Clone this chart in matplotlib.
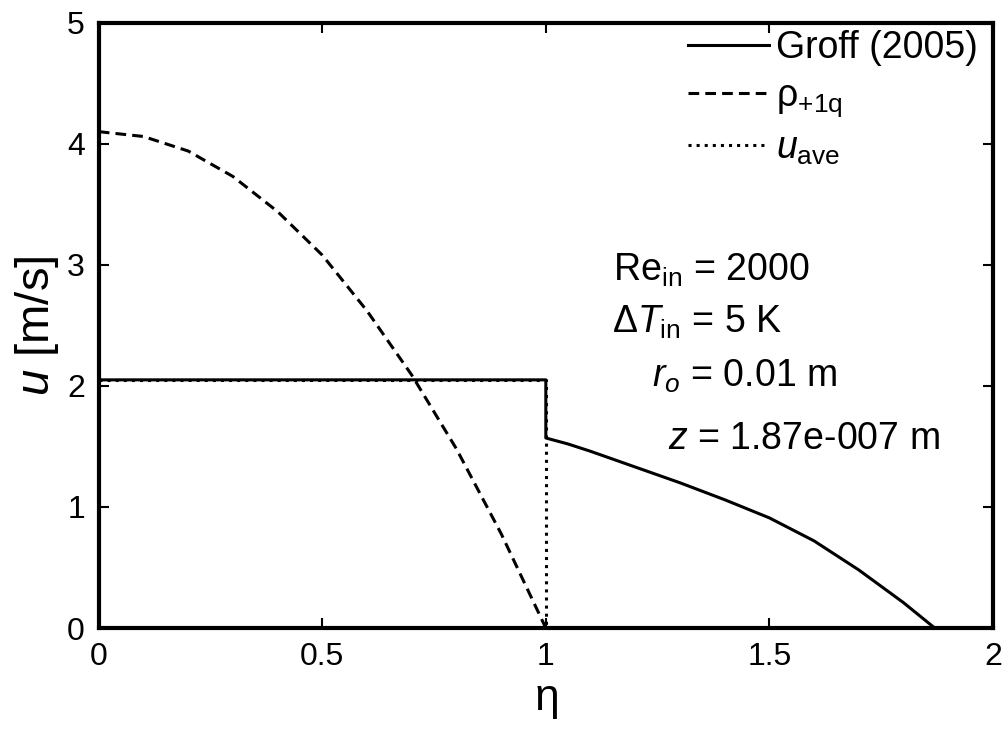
import numpy as np
import matplotlib
matplotlib.use("Agg")
import matplotlib.pyplot as plt

# ---------------------------
# Data
# ---------------------------
eta_groff = [0.0, 1.0, 1.0, 1.05, 1.1, 1.2, 1.3, 1.4, 1.5, 1.6, 1.7, 1.8, 1.87, 2.0]
u_groff = [2.05, 2.05, 1.57, 1.52, 1.46, 1.33, 1.20, 1.06, 0.91, 0.72, 0.48, 0.21, 0.0, 0.0]

eta_rho = [0.0, 0.1, 0.2, 0.3, 0.4, 0.5, 0.6, 0.7, 0.8, 0.9, 1.0, 2.0]
u_rho = [4.10, 4.06, 3.94, 3.73, 3.44, 3.08, 2.62, 2.09, 1.48, 0.78, 0.0, 0.0]

eta_ave = [0.0, 1.0, 1.0, 2.0]
u_ave = [2.05, 2.05, 0.0, 0.0]

labels = ["Groff (2005)", r"$\mathrm{\rho}_{\mathrm{+1q}}$", r"$u_{\mathrm{ave}}$"]
notes = [r"Re$_{\mathrm{in}}$ = 2000",
         r"$\Delta T_{\mathrm{in}}$ = 5 K",
         r"$r_o$ = 0.01 m",
         r"$z$ = 1.87e-007 m"]

plt.rcParams["font.family"] = ["Liberation Sans", "DejaVu Sans"]
plt.rcParams["mathtext.fontset"] = "custom"
plt.rcParams["mathtext.rm"] = "Liberation Sans"
plt.rcParams["mathtext.it"] = "Liberation Sans:italic"
plt.rcParams["mathtext.sf"] = "Liberation Sans"

fig = plt.figure(figsize=(10.08, 7.32), dpi=100)
ax = fig.add_axes([0.098, 0.142, 0.887, 0.827])

ax.plot(eta_groff, u_groff, "k-", lw=2.2, label=labels[0])
ax.plot(eta_rho, u_rho, "k--", lw=2.2, dashes=(3.5, 2), label=labels[1])
ax.plot(eta_ave, u_ave, "k:", lw=2.2, label=labels[2])

ax.set_xlim(0, 2)
ax.set_ylim(0, 5)
ax.set_xticks([0, 0.5, 1, 1.5, 2])
ax.set_xticklabels(["0", "0.5", "1", "1.5", "2"])
ax.set_yticks([0, 1, 2, 3, 4, 5])
ax.tick_params(direction="in", length=7, width=1.5, top=True, right=True,
               labelsize=23, pad=10)
for s in ax.spines.values():
    s.set_linewidth(3)

ax.set_xlabel(r"$\mathrm{\eta}$", fontsize=32, labelpad=6)
ax.set_ylabel(r"$u$ [m/s]", fontsize=34, labelpad=4)

ax.legend(loc="upper right", frameon=False, fontsize=27, handlelength=2.15,
          handletextpad=0.2, labelspacing=0.3, borderaxespad=0.0,
          bbox_to_anchor=(1.0, 1.012))

# annotations
note_pos = [(1.150, 2.868), (1.148, 2.438), (1.237, 1.992), (1.273, 1.479)]
for (x, y), t in zip(note_pos, notes):
    ax.text(x, y, t, fontsize=27, ha="left", va="baseline")

fig.savefig("out.png", dpi=100)
